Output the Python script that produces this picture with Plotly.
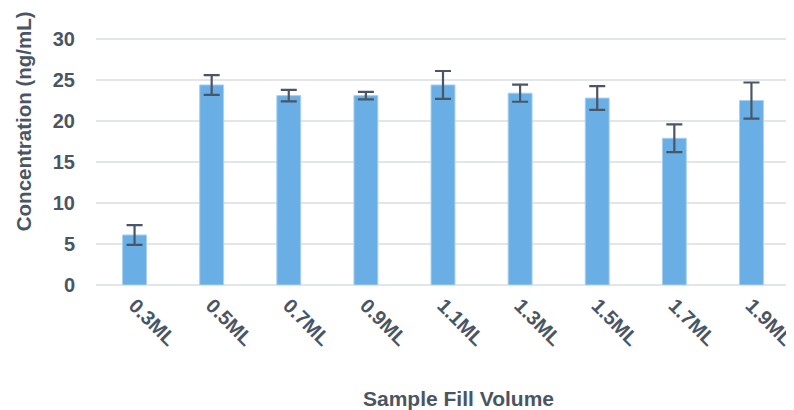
import plotly.graph_objects as go

categories = ["0.3ML", "0.5ML", "0.7ML", "0.9ML", "1.1ML", "1.3ML", "1.5ML", "1.7ML", "1.9ML"]
concentration = [6.1, 24.4, 23.1, 23.1, 24.4, 23.4, 22.8, 17.9, 22.5]
error = [1.2, 1.2, 0.7, 0.45, 1.7, 1.05, 1.45, 1.7, 2.2]
y_ticks = [0, 5, 10, 15, 20, 25, 30]
x_title = "Sample Fill Volume"
y_title = "Concentration (ng/mL)"

text_color = "#4a5564"
font_family = "Liberation Sans, Arial, sans-serif"

fig = go.Figure(
    go.Bar(
        x=categories,
        y=concentration,
        width=0.31,
        marker=dict(color="#69aee4", line=dict(color="#a9d0f0", width=1)),
        error_y=dict(type="data", array=error, visible=True,
                     color="#4a5666", thickness=2.2, width=8),
    )
)

fig.update_layout(
    width=786,
    height=402,
    margin=dict(l=88, r=4, t=29, b=125),
    paper_bgcolor="white",
    plot_bgcolor="white",
    showlegend=False,
    font=dict(family=font_family, color=text_color, size=20, weight="bold"),
    annotations=[
        dict(text=x_title, xref="paper", yref="paper", x=0.523, y=-0.456,
             xanchor="center", yanchor="middle", showarrow=False,
             font=dict(size=21, color=text_color, family=font_family, weight="bold")),
        dict(text=y_title, xref="paper", yref="paper", x=-0.105, y=0.661,
             xanchor="center", yanchor="middle", showarrow=False, textangle=-90,
             font=dict(size=20.5, color=text_color, family=font_family, weight="bold")),
    ],
)

fig.update_xaxes(
    tickangle=45,
    tickfont=dict(size=20, color=text_color, family=font_family, weight="bold"),
    showgrid=False,
    showline=False,
    ticks="",
    ticklabelstandoff=4,
    automargin=False,
)

fig.update_yaxes(
    range=[0, 30.25],
    tickvals=y_ticks,
    tickfont=dict(size=20, color=text_color, family=font_family, weight="bold"),
    showgrid=True,
    gridcolor="#e2e5e9",
    gridwidth=2,
    zeroline=True,
    zerolinecolor="#e2e5e9",
    zerolinewidth=2,
    showline=False,
    ticks="",
    ticklabelstandoff=20,
    automargin=False,
)

fig.write_html("out.html")
